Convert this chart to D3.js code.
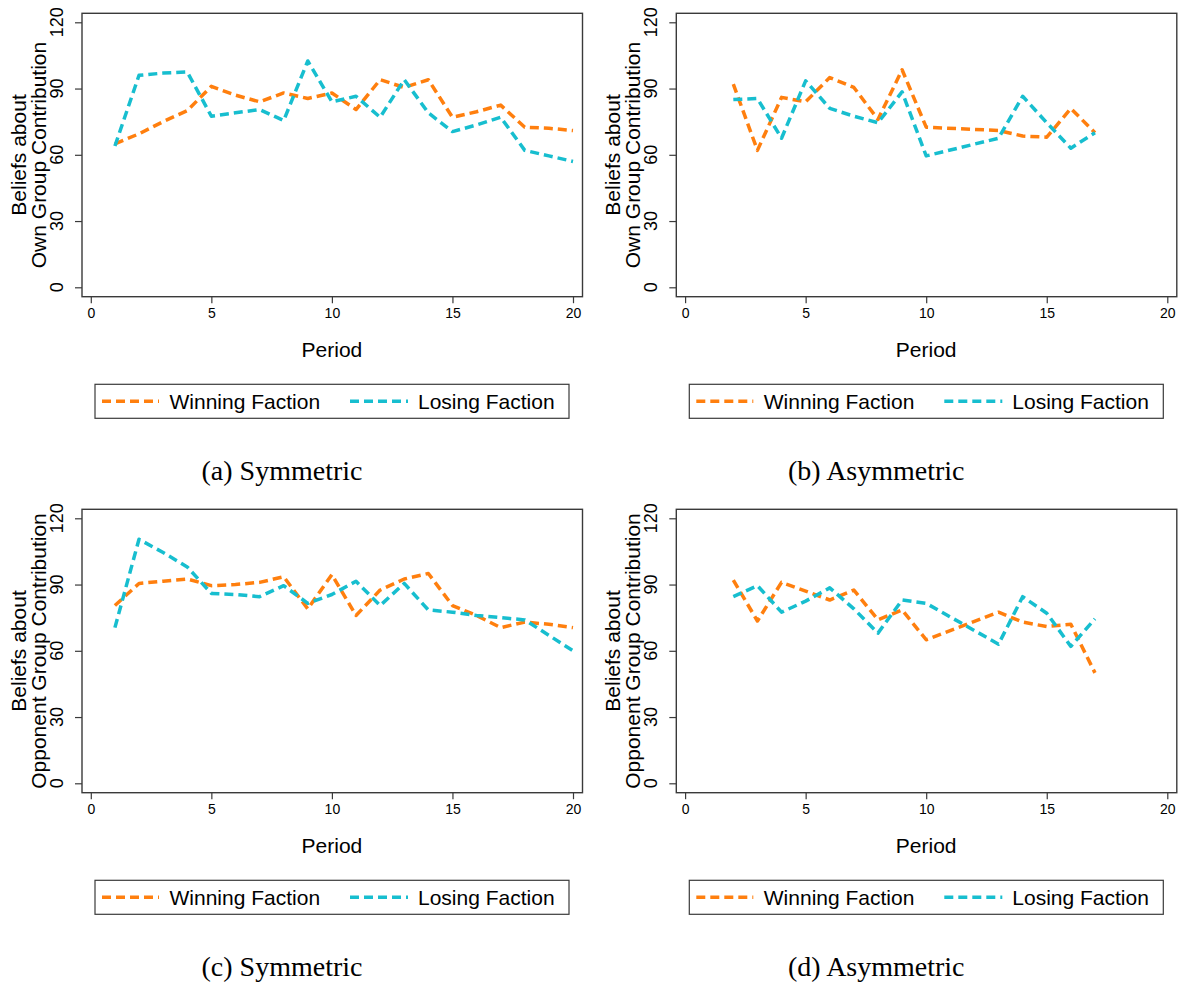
<!DOCTYPE html>
<html>
<head>
<meta charset="utf-8">
<script src="https://cdn.jsdelivr.net/npm/d3@7"></script>
<style>
  body { margin: 0; background: #fff; }
  svg { display: block; }
</style>
</head>
<body>
<svg id="chart" width="1180" height="987"></svg>
<script>
// periods (asymmetric treatment has no data for periods 11 and 12)
const periodsSym = [1, 2, 3, 4, 5, 6, 7, 8, 9, 10, 11, 12, 13, 14, 15, 16, 17, 18, 19, 20]
const periodsAsym = [2, 3, 4, 5, 6, 7, 8, 9, 10, 13, 14, 15, 16, 17]

// beliefs about own group contribution
const ownSymWin = [65, 69.5, 75, 80, 91, 87, 84, 88, 85.5, 88, 80.5, 94, 90.5, 94, 77, 79.5, 82.5, 72.5, 72, 71]
const ownSymLose = [64, 96, 97, 97.5, 77.5, 79, 80.5, 75.5, 102.5, 84, 86.5, 77, 94, 79, 70.5, 73.5, 77, 62, 59.5, 57]
const ownAsymWin = [92, 62, 86, 84, 95, 90.5, 76, 98.5, 72.5, 71, 68.5, 68, 81, 70]
const ownAsymLose = [85, 85.5, 67.5, 93.5, 81, 77.5, 74.5, 88.5, 59.5, 67.5, 86.5, 74.5, 63, 70]

// beliefs about opponent group contribution
const oppSymWin = [80.5, 90.5, 91.5, 92.5, 89.5, 90, 91, 93.5, 79, 94.5, 76, 87.5, 92.5, 95, 80.5, 76, 70.5, 73, 72, 70.5]
const oppSymLose = [70.5, 110.5, 104.5, 98, 86, 85.5, 84.5, 89.5, 81.5, 85.5, 91.5, 80.5, 90.5, 78.5, 77.5, 76, 75, 74, 67, 60]
const oppAsymWin = [92, 73.5, 91, 87, 83, 87.5, 74, 78.5, 65, 77.5, 73, 71, 72, 50]
const oppAsymLose = [84.5, 89.5, 77.5, 82.5, 88.5, 79, 68, 83, 81.5, 63, 84.5, 77, 62, 74.5]

const xTicks = [0, 5, 10, 15, 20]
const yTicks = [0, 30, 60, 90, 120]
const seriesNames = ['Winning Faction', 'Losing Faction']
const seriesColors = ['#ff7f0e', '#17becf']
const captions = ['(a) Symmetric', '(b) Asymmetric', '(c) Symmetric', '(d) Asymmetric']
const yTitleOwn = ['Beliefs about', 'Own Group Contribution']
const yTitleOpp = ['Beliefs about', 'Opponent Group Contribution']

const svg = d3.select('#chart')
const sans = 'Liberation Sans, Arial, sans-serif'
const serif = 'Liberation Serif, Times New Roman, serif'

const frame = { left: 82, right: 582.5, top: 13.3, bottom: 296.7 }

/**
 * 画一个子图
 * @param {*} cfg
 */
function drawPanel(cfg) {
  const g = svg.append('g').attr('transform', `translate(${cfg.dx},${cfg.dy})`)

  const x = d3.scaleLinear().domain([0, 20]).range([90.8, 573])
  const y = d3.scaleLinear().domain([0, 120]).range([287.3, 22.3])

  // frame
  g.append('rect')
    .attr('x', frame.left).attr('y', frame.top)
    .attr('width', frame.right - frame.left).attr('height', frame.bottom - frame.top)
    .attr('fill', 'none').attr('stroke', '#3a3a3a').attr('stroke-width', 1.4)

  // x axis
  const xaxis = g.append('g').attr('class', 'xaxis')
    .attr('transform', `translate(0,${frame.bottom})`)
    .call(d3.axisBottom(x).tickValues(xTicks).tickSize(6.5).tickPadding(5).tickSizeOuter(0))
  xaxis.select('.domain').remove()
  xaxis.selectAll('line').attr('stroke', '#3a3a3a').attr('stroke-width', 1.2)
  xaxis.selectAll('text').attr('font-family', sans).attr('font-size', 14).attr('fill', '#000')

  // y axis, labels rotated
  const yaxis = g.append('g').attr('class', 'yaxis')
    .attr('transform', `translate(${frame.left},0)`)
    .call(d3.axisLeft(y).tickValues(yTicks).tickSize(7).tickSizeOuter(0).tickFormat(''))
  yaxis.select('.domain').remove()
  yaxis.selectAll('line').attr('stroke', '#3a3a3a').attr('stroke-width', 1.2)
  g.append('g').selectAll('text').data(yTicks).join('text')
    .attr('transform', d => `translate(63,${y(d)}) rotate(-90)`)
    .attr('text-anchor', 'middle')
    .attr('font-family', sans).attr('font-size', 18)
    .text(d => d)

  // y title
  const cy = (frame.top + frame.bottom) / 2
  g.append('g').selectAll('text').data(cfg.yTitle).join('text')
    .attr('transform', (d, i) => `translate(${i === 0 ? 26 : 45.5},${cy}) rotate(-90)`)
    .attr('text-anchor', 'middle')
    .attr('font-family', sans).attr('font-size', 21)
    .text(d => d)

  // x title
  g.append('text')
    .attr('x', x(10)).attr('y', 356.5)
    .attr('text-anchor', 'middle')
    .attr('font-family', sans).attr('font-size', 21)
    .text('Period')

  // series
  const line = d3.line().x(d => x(d.p)).y(d => y(d.v))
  cfg.series.forEach((vals, i) => {
    const pts = cfg.periods.map((p, j) => ({ p: p, v: vals[j] }))
    g.append('path')
      .datum(pts)
      .attr('d', line)
      .attr('fill', 'none')
      .attr('stroke', seriesColors[i])
      .attr('stroke-width', 3.5)
      .attr('stroke-dasharray', '9,5')
      .attr('stroke-linejoin', 'round')
  })

  // legend
  const lg = g.append('g').attr('class', 'legend')
  lg.append('rect')
    .attr('x', 95).attr('y', 384.3).attr('width', 474).attr('height', 34)
    .attr('fill', '#fff').attr('stroke', '#3a3a3a').attr('stroke-width', 1.2)
  const items = [{ x1: 102, x2: 159, tx: 169.5 }, { x1: 350, x2: 408, tx: 418 }]
  items.forEach((it, i) => {
    lg.append('line')
      .attr('x1', it.x1).attr('x2', it.x2).attr('y1', 401.3).attr('y2', 401.3)
      .attr('stroke', seriesColors[i]).attr('stroke-width', 3.5)
      .attr('stroke-dasharray', '9,5')
    lg.append('text')
      .attr('x', it.tx).attr('y', 408.8)
      .attr('font-family', sans).attr('font-size', 21)
      .text(seriesNames[i])
  })

  // caption
  g.append('text')
    .attr('x', 282).attr('y', 480)
    .attr('text-anchor', 'middle')
    .attr('font-family', serif).attr('font-size', 28)
    .text(cfg.caption)
}

const panels = [
  { dx: 0, dy: 0, periods: periodsSym, series: [ownSymWin, ownSymLose], yTitle: yTitleOwn, caption: captions[0] },
  { dx: 594.3, dy: 0, periods: periodsAsym, series: [ownAsymWin, ownAsymLose], yTitle: yTitleOwn, caption: captions[1] },
  { dx: 0, dy: 496, periods: periodsSym, series: [oppSymWin, oppSymLose], yTitle: yTitleOpp, caption: captions[2] },
  { dx: 594.3, dy: 496, periods: periodsAsym, series: [oppAsymWin, oppAsymLose], yTitle: yTitleOpp, caption: captions[3] }
]

panels.forEach(drawPanel)
</script>
</body>
</html>
